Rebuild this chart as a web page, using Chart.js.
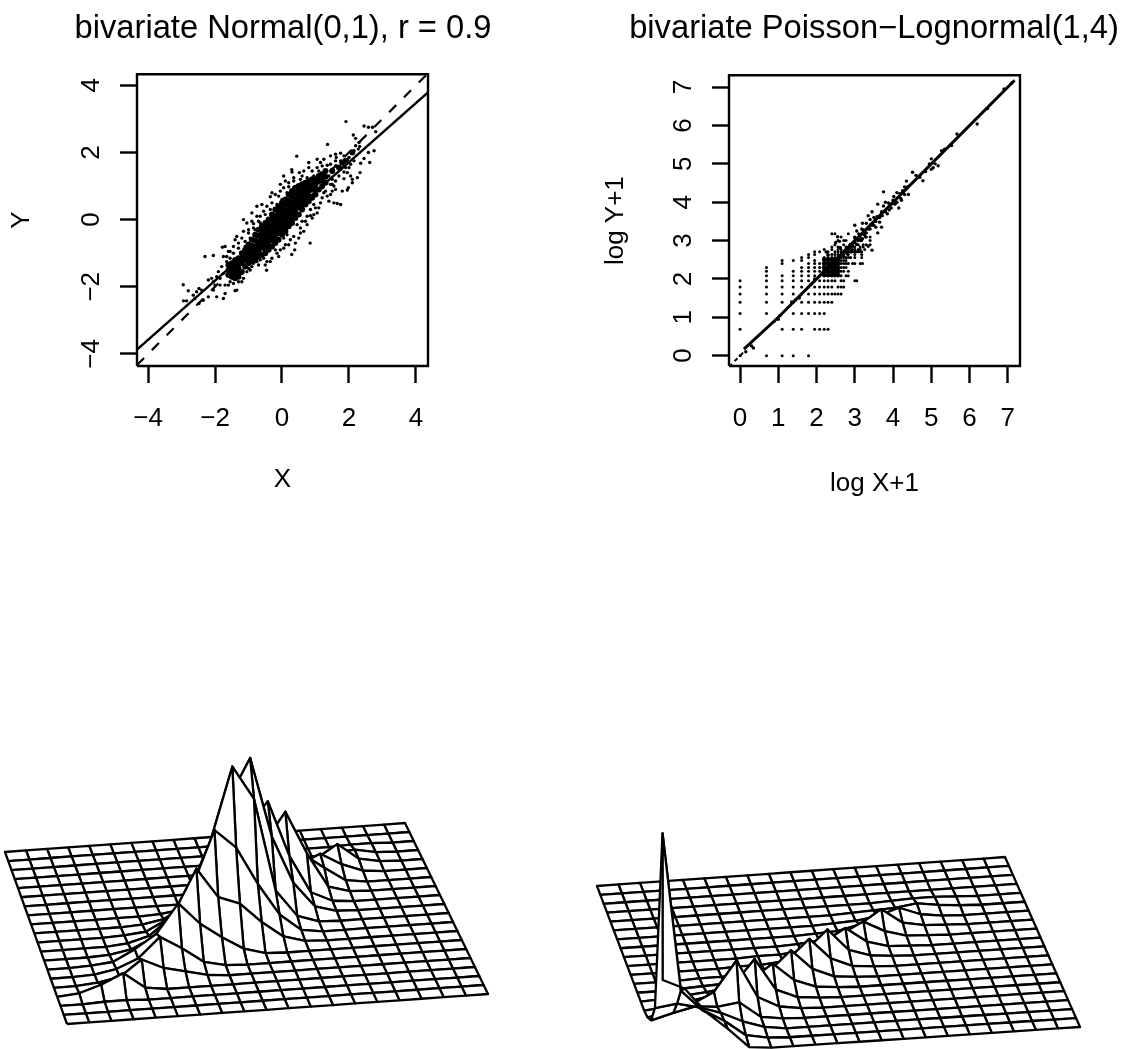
<!DOCTYPE html>
<html>
<head>
<meta charset="utf-8">
<style>
  html, body { margin: 0; padding: 0; background: #fff; overflow: hidden; }
  canvas { position: absolute; display: block; }
</style>
<script src="https://cdn.jsdelivr.net/npm/chart.js@4/dist/chart.umd.min.js"></script>
</head>
<body>
<canvas id="normalSurface" style="left:0;top:740px" width="566" height="309"></canvas>
<canvas id="poissonSurface" style="left:566px;top:740px" width="560" height="309"></canvas>
<canvas id="normalPlot" style="left:0;top:0" width="566" height="520"></canvas>
<canvas id="poissonPlot" style="left:566px;top:0" width="616" height="520"></canvas>
<script>
const normalTitle = 'bivariate Normal(0,1), r = 0.9';
const poissonTitle = 'bivariate Poisson\u2212Lognormal(1,4)';
const normalTicks = [-4, -2, 0, 2, 4];
const poissonTicks = [0, 1, 2, 3, 4, 5, 6, 7];

// loose dots of the normal cloud
const normalDots = [
  [1.91,2.92],[2.45,2.79],[2.58,2.75],[2.8,2.62],[2.7,2.75],[2.13,2.52],[2.2,2.42],[2.3,2.3],[2.2,2.2],[2.28,2.1],
  [2.15,2.05],[2.32,2.18],[2.75,2.05],[2.58,2.0],[2.45,1.82],[2.62,1.7],[2.35,1.68],[2.33,1.4],[2.25,1.25],[2.1,1.2],
  [2.1,1.1],[1.98,0.95],[1.95,0.88],[1.8,0.85],[1.55,0.5],[1.65,0.48],[1.75,0.45],[1.4,0.55],[1.35,0.7],[1.5,0.85],
  [1.36,2.24],[1.45,1.9],[1.6,1.95],[1.62,1.85],[1.75,1.98],[1.85,1.9],[1.95,1.78],[2.0,1.85],[2.05,1.65],[1.9,1.55],
  [1.75,1.5],[1.85,1.42],[1.95,1.4],[2.05,1.3],[1.85,1.22],[1.7,1.3],[1.6,1.15],[1.5,1.2],[1.45,1.05],[1.55,1.0],
  [1.6,0.9],[1.45,0.75],[1.25,0.8],[1.15,0.5],[1.1,0.35],[1.05,0.2],[0.95,0.15],[0.9,0.05],[0.84,-0.7],[0.29,-1.04],
  [0.38,-0.9],[-0.46,-1.51],[0.44,1.89],[0.29,1.49],[0.3,1.42],[0.52,1.4],[0.8,1.7],[0.8,1.55],[1.05,1.8],[1.15,1.7],
  [1.25,1.8],[1.2,1.6],[0.65,1.45],[0.05,1.3],[0.1,1.15],[0.2,1.1],[0.35,1.15],[-0.05,1.05],[-0.3,0.8],[-0.35,0.68],
  [-0.2,0.75],[-0.05,0.85],[-0.6,0.45],[-0.75,0.4],[-0.9,0.2],[-0.75,0.1],[-0.9,-0.05],[-1.05,-0.1],[-1.15,0],[-0.85,-0.25],
  [-0.65,0.1],[-1.35,-0.5],[-1.4,-0.6],[-1.3,-0.7],[-1.2,-0.55],[-1.1,-0.65],[-1.7,-0.8],[-1.6,-0.95],[-1.75,-1.1],[-1.45,-0.8],
  [-2.3,-1.1],[-2.05,-1.07],[-1.78,-0.82],[0.75,-0.15],[0.65,-0.35],[0.55,-0.4],[0.5,-0.55],[0.35,-0.5],[0.25,-0.6],[0.1,-0.75],
  [-0.05,-0.9],[-0.15,-1.0],[-0.3,-1.15],[-0.45,-1.25],[-0.55,-1.15],[-0.65,-1.2],[-0.75,-1.25],[-0.9,-1.4],[-1.05,-1.55],[-1.3,-1.85],
  [-1.35,-2.1],[-1.4,-2.12],[-1.2,-1.85],[-1.15,-1.75],[-1.7,-2.2],[-1.75,-2.35],[-1.95,-2.3],[-2.05,-2.1],[-2.2,-2.3],[-2.35,-2.4],
  [-2.6,-2.35],[-2.48,-2.5],[-2.95,-1.94],[-2.8,-2.12],[-2.94,-2.42],[-2.85,-2.42],[-2.48,-2.05],[-2.4,-2.1],[-2.55,-2.15],[-2.65,-2.25],
  [-2.2,-1.8],[-2.1,-1.75],[-2.05,-1.85],[-2.0,-1.95],[-1.95,-1.7],[-1.85,-1.75],[-1.75,-1.6],[-1.85,-1.95],[-1.7,-1.95],[-1.6,-1.95],
  [-1.55,-1.85],[-1.45,-1.9],[-1.0,-0.4],[-0.95,-0.55],[-1.1,-0.8],[-1.2,-1.0],[-1.65,-1.25],[-1.55,-1.15],[-1.8,-1.4],[-1.9,-1.55],
  [-1.0,-1.45],[-0.85,-1.3],[-1.2,-1.6],[-1.45,-1.75],[-0.2,-0.9],[0.05,-0.55],[0.15,-0.45],[0.45,-0.15],[0.6,-0.05],[0.75,0.1],
  [0.85,0.3],[0.95,0.45],[1.2,0.95],[1.3,1.1],[1.4,1.3],[1.5,1.5],[1.6,1.6],[1.1,1.45],[0.95,1.3],[0.75,1.25],
  [0.55,1.2],[0.35,0.95],[0.15,0.8],[0,0.6],[-0.15,0.45],[-0.35,0.3],[-0.5,0.15],[-0.65,-0.1],[-0.8,-0.3],[-1.0,-0.7],
  [-0.45,0.4],[-0.55,0.25],[-0.3,0.5],[-0.1,0.7],[0.05,0.95],[0.2,0.98],[-0.7,-0.05],[-0.85,-0.12],[-1.0,-0.3],[-1.15,-0.35],
  [-1.3,-0.85],[-1.45,-1.0],[-1.55,-0.95],[-1.65,-1.1],[-0.95,-1.5],[-0.7,-1.35],[-0.5,-1.35],[-0.35,-1.25],[-0.1,-1.1],[0.05,-0.85],
  [0.2,-0.75],[0.4,-0.7],[0.55,-0.25],[0.7,-0.05],[0.85,0.12],[1.0,0.35],[1.2,0.65],[1.3,0.85],[1.5,1.05],[0.6,1.3],
  [0.35,1.25],[0.9,1.45],[1.05,1.55],[1.35,1.62],[1.45,1.65],[1.6,1.75],[1.75,1.75],[1.85,1.6],[2.0,1.55],[2.15,1.75]
];
// the solid middle of the cloud, where dots overlap completely: one y list per x
const normalCoreX = [-1.6, -1.5, -1.4, -1.3, -1.2, -1.1, -1.0, -0.9, -0.8, -0.7, -0.6, -0.5, -0.4, -0.3, -0.2, -0.1, 0, 0.1, 0.2, 0.3, 0.4, 0.5, 0.6, 0.7, 0.8, 0.9, 1.0, 1.1, 1.2, 1.3, 1.5, 1.7, 1.8, 1.9, 2.1];
const normalCoreY = [
  [-1.35, -1.5, -1.65],
  [-1.3, -1.45, -1.6, -1.7],
  [-1.2, -1.35, -1.5, -1.62, -1.75],
  [-1.15, -1.3, -1.45, -1.6, -1.7],
  [-1.0, -1.15, -1.3, -1.55],
  [-0.9, -1.05, -1.2, -1.4],
  [-0.75, -0.9, -1.05, -1.15, -1.3],
  [-0.6, -0.78, -0.95, -1.1, -1.25],
  [-0.45, -0.62, -0.8, -0.95, -1.1, -1.2],
  [-0.3, -0.48, -0.65, -0.8, -0.95, -1.1],
  [-0.2, -0.36, -0.52, -0.68, -0.84, -1.05],
  [-0.1, -0.25, -0.42, -0.58, -0.74, -0.88, -1.0],
  [0, -0.16, -0.32, -0.48, -0.62, -0.78, -0.9],
  [0.15, 0, -0.16, -0.32, -0.46, -0.62, -0.8],
  [0.3, 0.12, -0.04, -0.2, -0.36, -0.52, -0.7],
  [0.4, 0.24, 0.08, -0.08, -0.24, -0.4, -0.6],
  [0.5, 0.34, 0.18, 0.02, -0.14, -0.3, -0.45],
  [0.6, 0.44, 0.28, 0.12, -0.04, -0.2, -0.35],
  [0.75, 0.58, 0.42, 0.26, 0.1, -0.05, -0.2],
  [0.85, 0.68, 0.52, 0.36, 0.2, 0.04, -0.1],
  [0.95, 0.8, 0.64, 0.48, 0.32, 0.18, 0.05],
  [1.0, 0.84, 0.68, 0.52, 0.36, 0.15],
  [1.05, 0.88, 0.72, 0.58, 0.44, 0.3],
  [1.1, 0.94, 0.78, 0.62, 0.45],
  [1.15, 1.0, 0.85, 0.7, 0.55],
  [1.2, 1.05, 0.9, 0.65],
  [1.2, 1.05, 0.9, 0.75],
  [1.3, 1.15, 0.9],
  [1.35, 1.18, 1.0],
  [1.45, 1.28, 1.1],
  [1.45],
  [1.55],
  [1.7],
  [1.75],
  [2.0]
];

// counts sit on a log grid: one list of x values per row of poissonRowY
const poissonRowY = [0, 0.69, 1.1, 1.39, 1.61, 1.79, 1.95, 2.08, 2.2, 2.3, 2.4, 2.48, 2.56, 2.64, 2.71, 2.77, 2.83, 2.89, 3.0, 3.09, 3.18];
const poissonRowX = [
  [0, 0.69, 1.1, 1.39, 1.79],
  [0, 1.1, 1.39, 1.61, 1.95, 2.08, 2.2, 2.3],
  [0, 0.69, 1.39, 1.61, 1.79, 1.95, 2.08, 2.2],
  [0, 0.69, 1.1, 1.39, 1.61, 1.79, 1.95, 2.08, 2.2, 2.3, 2.4],
  [0, 0.69, 1.1, 1.39, 1.61, 1.79, 1.95, 2.08, 2.2, 2.3, 2.4, 2.48, 2.56, 2.64],
  [0, 0.69, 1.1, 1.39, 1.61, 1.79, 1.95, 2.08, 2.2, 2.3, 2.4, 2.56, 2.64, 2.71],
  [0, 0.69, 1.1, 1.39, 1.61, 1.79, 1.95, 2.08, 2.2, 2.3, 2.4, 2.48, 2.64, 2.71, 3.0, 3.05],
  [0.69, 1.1, 1.39, 1.61, 1.79, 1.95, 2.08, 2.2, 2.3, 2.4, 2.48, 2.56, 2.64, 2.77, 2.83],
  [0.69, 1.39, 1.61, 1.79, 1.95, 2.08, 2.2, 2.3, 2.4, 2.48, 2.56, 2.64, 2.71, 2.83],
  [0.69, 1.61, 1.79, 1.95, 2.08, 2.2, 2.3, 2.4, 2.48, 2.56, 2.64, 2.71, 2.77],
  [1.1, 1.79, 1.95, 2.08, 2.2, 2.3, 2.4, 2.48, 2.56, 2.64, 2.71, 2.77, 2.83, 2.94, 3.0, 3.14, 3.2],
  [1.1, 1.39, 1.61, 1.95, 2.2, 2.3, 2.4, 2.48, 2.56, 2.64, 2.71, 2.77],
  [1.61, 1.79, 2.2, 2.3, 2.4, 2.48, 2.56, 2.64, 2.71, 2.77, 2.83, 2.89, 3.0, 3.18],
  [1.79, 1.95, 2.3, 2.4, 2.48, 2.56, 2.71, 2.83, 3.0, 3.18],
  [1.95, 2.08, 2.3, 2.48, 2.56, 2.64, 2.77, 2.83, 2.89, 2.94, 3.0, 3.04, 3.09, 3.14, 3.18],
  [2.2, 2.4, 2.56, 2.64, 2.83, 2.89, 2.94, 3.0, 3.09, 3.14, 3.26],
  [2.4, 2.56, 2.77, 2.89, 3.0, 3.14, 3.22],
  [2.48, 2.71, 2.94, 3.09, 3.22, 3.3, 3.4],
  [2.56, 2.71, 2.77, 3.0, 3.09, 3.18, 3.4],
  [2.64, 3.0, 3.14, 3.3, 3.4],
  [2.4, 2.48, 2.83, 3.1, 3.2]
];
// dots above the grid part, close to the diagonal
const poissonDots = [
  [0.15,0.1],[0.3,0.25],[0.35,0.2],[0.9,0.9],[1.0,0.95],[1.05,1.05],[1.35,1.4],[1.45,1.45],[1.55,1.5],[1.85,1.85],[1.95,2.0],
  [2.75,2.7],[2.85,2.8],[2.8,2.65],[2.9,2.7],[2.95,2.85],[3.0,2.95],[3.05,2.9],[3.1,3.05],[3.15,3.0],[3.25,3.15],
  [3.18,3.3],[3.3,3.45],[3.4,3.55],[3.5,3.6],[3.55,3.35],[3.6,3.2],[3.35,2.85],[3.45,2.75],[3.2,3.05],[3.3,3.2],
  [3.4,3.3],[3.45,3.4],[3.55,3.5],[3.65,3.6],[3.7,3.75],[3.75,3.9],[3.8,4.0],[3.85,3.7],[3.9,3.8],[3.95,3.95],
  [4.0,4.05],[4.05,3.95],[4.1,4.25],[4.2,4.1],[4.25,4.3],[4.3,4.4],[4.15,3.85],[4.4,4.2],[3.75,4.27],[3.45,3.75],
  [3.35,3.65],[3.2,3.45],[3.05,3.25],[3.0,3.4],[3.7,3.35],[3.6,3.95],[4.35,4.55],[4.51,4.78],[4.78,4.56],[4.6,4.7],
  [4.7,4.65],[4.85,4.8],[4.95,5.0],[5.0,5.13],[5.05,4.9],[5.18,4.95],[5.1,5.0],[5.0,4.86],[5.27,5.34],[5.35,5.38],
  [5.53,5.48],[5.67,5.78],[6.2,6.04],[6.47,6.44],[6.9,6.95],[7.1,7.1],
  [2.7,2.6],[2.78,2.78],[2.88,2.9],[2.92,2.75],[3.0,3.08],[3.08,3.0],[3.15,3.15],[3.22,3.28],[3.28,3.1],[3.35,3.3],
  [3.42,3.42],[3.5,3.4],[3.58,3.62],[3.65,3.48],[3.72,3.65],[3.8,3.75],[3.88,3.98],[3.95,3.85],[4.02,4.15],[4.1,4.0],
  [4.18,4.22],[4.22,4.05],[4.3,4.2],[4.38,4.4],[2.25,2.7],[2.3,2.62],[2.5,2.95],[2.6,2.98],[2.62,2.82],[2.55,3.1]
];
// the packed corner of the lower grid
const poissonCoreX = [2.2, 2.3, 2.4, 2.48, 2.56];
const poissonCoreY = [2.1, 2.2, 2.3, 2.4, 2.5];

// smoothed density surfaces, height at each grid node: row 0 is the front edge, missing cells are flat
const normalHeights = [
  [],
  [],
  [0, 0, 1, 1],
  [0, 2, 9, 19, 3],
  [0, 0, 2, 6, 22, 12, 7, 2],
  [0, 0, 1, 5, 14, 34, 21, 6, 1],
  [0, 0, 1, 3, 14, 28, 57, 35, 20, 7, 1],
  [0, 0, 0, 1, 5, 15, 40, 81, 51, 43, 23, 7, 1],
  [0, 0, 0, 0, 2, 8, 25, 55, 109, 90, 52, 20, 3],
  [0, 0, 0, 0, 1, 3, 14, 40, 90, 162, 128, 35, 8, 1],
  [0, 0, 0, 0, 0, 1, 5, 18, 50, 120, 160, 80, 32, 7, 1],
  [0, 0, 0, 0, 0, 0, 1, 4, 15, 40, 80, 106, 50, 12, 2],
  [0, 0, 0, 0, 0, 0, 0, 0, 2, 8, 25, 55, 85, 42, 7, 1],
  [0, 0, 0, 0, 0, 0, 0, 0, 0, 1, 3, 10, 30, 32, 17, 3],
  [0, 0, 0, 0, 0, 0, 0, 0, 0, 0, 0, 1, 5, 12, 22, 10, 2],
  [0, 0, 0, 0, 0, 0, 0, 0, 0, 0, 0, 0, 0, 2, 8, 21, 5, 1],
  [0, 0, 0, 0, 0, 0, 0, 0, 0, 0, 0, 0, 0, 0, 1, 3, 5, 1],
  [0, 0, 0, 0, 0, 0, 0, 0, 0, 0, 0, 0, 0, 0, 0, 0, 1, 1]
];
const poissonHeights = [
  [75, 65, 40, 22, 2],
  [213, 54, 33, 21, 5, 1],
  [29, 32, 27, 20, 10, 3],
  [8, 14, 19, 17, 20, 4, 1],
  [2, 5, 12, 23, 53, 15, 4, 1],
  [0, 2, 6, 10, 18, 44, 12, 3, 1],
  [0, 1, 3, 5, 8, 14, 29, 11, 3, 1],
  [0, 0, 1, 2, 3, 6, 12, 32, 12, 3, 1],
  [0, 0, 0, 1, 1, 2, 4, 13, 33, 12, 3, 1],
  [0, 0, 0, 0, 0, 1, 1, 3, 12, 32, 10, 3, 1],
  [0, 0, 0, 0, 0, 0, 1, 1, 3, 10, 23, 8, 2, 1],
  [0, 0, 0, 0, 0, 0, 0, 0, 1, 3, 8, 19, 8, 2, 1],
  [0, 0, 0, 0, 0, 0, 0, 0, 0, 1, 2, 7, 21, 6, 2, 1],
  [0, 0, 0, 0, 0, 0, 0, 0, 0, 0, 1, 2, 5, 12, 4, 1],
  [0, 0, 0, 0, 0, 0, 0, 0, 0, 0, 0, 1, 2, 3, 6, 3, 1],
  [0, 0, 0, 0, 0, 0, 0, 0, 0, 0, 0, 0, 0, 1, 2, 2, 1]
];
const gridCells = 19;

const axisFont = { family: '"Liberation Sans", Arial, sans-serif', size: 26 };
const titleFont = { family: '"Liberation Sans", Arial, sans-serif', size: 32.7, weight: 'normal' };

function minusLabel(value) {
  return value < 0 ? '\u2212' + Math.abs(value) : String(value);
}

function axisOptions(limits, tickValues, label, isX, frame) {
  return {
    type: 'linear',
    min: limits[0],
    max: limits[1],
    afterBuildTicks(scale) { scale.ticks = tickValues.map(value => ({ value })); },
    afterFit(scale) {
      if (isX) scale.height = frame.xHeight;
      else scale.width = frame.yWidth;
    },
    border: { display: false },
    grid: { drawOnChartArea: false, drawTicks: true, tickLength: 17, tickColor: '#000', tickWidth: 2.4 },
    ticks: {
      autoSkip: false,
      color: '#000',
      font: axisFont,
      padding: isX ? frame.xPad : frame.yPad,
      minRotation: isX ? 0 : 90,
      maxRotation: isX ? 0 : 90,
      crossAlign: isX ? 'near' : 'center',
      callback: minusLabel
    },
    title: { display: true, text: label, color: '#000', font: axisFont, padding: isX ? 0 : { top: frame.yTitle, bottom: 0 } }
  };
}

function lineSet(data, width, dash) {
  return { type: 'line', data, borderColor: '#000', borderWidth: width, borderDash: dash || [], pointRadius: 0, fill: false, tension: 0 };
}

function dotSet(data, radius) {
  return { data, backgroundColor: '#000', borderWidth: 0, pointRadius: radius, pointHoverRadius: radius };
}

function toPoints(pairs) {
  return pairs.map(p => ({ x: p[0], y: p[1] }));
}

function makePlot(id, title, xLimits, yLimits, xTicks, yTicks, xLabel, yLabel, sets, frame) {
  const box = [[xLimits[0], yLimits[0]], [xLimits[1], yLimits[0]], [xLimits[1], yLimits[1]], [xLimits[0], yLimits[1]], [xLimits[0], yLimits[0]]];
  const boxSet = lineSet(toPoints(box), 2.4);
  boxSet.clip = false;
  new Chart(document.getElementById(id), {
    type: 'scatter',
    data: { datasets: sets.concat([boxSet]) },
    options: {
      responsive: false,
      animation: false,
      layout: { padding: { bottom: frame.bottom } },
      plugins: {
        legend: { display: false },
        tooltip: { enabled: false },
        title: { display: true, text: title, color: '#000', font: titleFont, padding: { top: 9, bottom: frame.titleGap } }
      },
      scales: {
        x: axisOptions(xLimits, xTicks, xLabel, true, frame),
        y: axisOptions(yLimits, yTicks, yLabel, false, frame),
        // empty axis on the right: keeps the title centred on the whole canvas
        side: {
          type: 'linear',
          position: 'right',
          afterFit(scale) { scale.width = frame.right; },
          ticks: { display: false },
          grid: { display: false },
          border: { display: false }
        }
      }
    }
  });
}

// the base grid is a slanted quadrilateral: front-left, front-right, back-right, back-left
function baseMapper(quad) {
  const [p0, p1, p2, p3] = quad;
  return (s, t) => ({
    x: (1 - s) * (1 - t) * p0[0] + s * (1 - t) * p1[0] + s * t * p2[0] + (1 - s) * t * p3[0],
    y: (1 - s) * (1 - t) * p0[1] + s * (1 - t) * p1[1] + s * t * p2[1] + (1 - s) * t * p3[1]
  });
}

function makeSurface(id, heights, quad, xRange, yRange, lean) {
  const mapBase = baseMapper(quad);
  const node = (u, v) => {
    const base = mapBase(u / gridCells, v / gridCells);
    const z = (heights[v] && heights[v][u]) || 0;
    return { x: base.x + lean * z, y: base.y - z };
  };
  // dataset 0 is painted last, so the nearest facet goes first and hides what is behind it
  const datasets = [];
  for (let v = 0; v < gridCells; v++) {
    for (let u = 0; u < gridCells; u++) {
      datasets.push({
        type: 'line',
        data: [node(u, v), node(u + 1, v), node(u + 1, v + 1), node(u, v + 1), node(u, v)],
        borderColor: '#000',
        borderWidth: 2.3,
        borderJoinStyle: 'round',
        backgroundColor: '#fff',
        fill: 'shape',
        pointRadius: 0,
        tension: 0
      });
    }
  }
  new Chart(document.getElementById(id), {
    type: 'line',
    data: { datasets },
    options: {
      responsive: false,
      animation: false,
      parsing: false,
      normalized: false,
      layout: { padding: 0 },
      plugins: { legend: { display: false }, tooltip: { enabled: false } },
      scales: {
        x: { type: 'linear', display: false, min: xRange[0], max: xRange[1] },
        y: { type: 'linear', display: false, min: yRange[0], max: yRange[1], reverse: true }
      }
    }
  });
}

const normalCore = [];
normalCoreX.forEach((x, i) => normalCoreY[i].forEach(y => normalCore.push({ x, y })));

makePlot('normalPlot', normalTitle, [-4.33, 4.36], [-4.36, 4.33], normalTicks, normalTicks, 'X', 'Y', [
  lineSet(toPoints([[-4.33, -3.87], [4.36, 3.79]]), 2.4),
  lineSet(toPoints([[-4.33, -4.33], [4.33, 4.33]]), 2.2, [10, 11]),
  dotSet(toPoints(normalDots), 1.7),
  dotSet(normalCore, 3)
], { yWidth: 137, yTitle: 6.4, yPad: 13, xHeight: 129.6, xPad: 20, bottom: 24.4, right: 138, titleGap: 26 });

const poissonGrid = [];
poissonRowY.forEach((y, i) => poissonRowX[i].forEach(x => poissonGrid.push({ x, y })));
const poissonCore = [];
poissonCoreY.forEach(y => poissonCoreX.forEach(x => poissonCore.push({ x, y })));

makePlot('poissonPlot', poissonTitle, [-0.29, 7.32], [-0.27, 7.31], poissonTicks, poissonTicks, 'log X+1', 'log Y+1', [
  lineSet(toPoints([[0.1, 0.17], [1, 1], [2, 2], [3, 3], [7.18, 7.18]]), 3),
  lineSet(toPoints([[-0.29, -0.29], [0.1, 0.1]]), 2, [4, 4]),
  dotSet(poissonGrid, 1.5),
  dotSet(toPoints(poissonDots), 1.7),
  dotSet(poissonCore, 2.4)
], { yWidth: 163, yTitle: 34, yPad: 20.8, xHeight: 133, xPad: 20, bottom: 21, right: 162, titleGap: 27 });

makeSurface('normalSurface', normalHeights, [[67, 1024], [488, 994], [405, 823], [5, 852]], [0, 566], [740, 1049], 0);
makeSurface('poissonSurface', poissonHeights, [[661, 1055], [1080, 1027], [1005, 857], [597, 886]], [566, 1126], [740, 1049], 0.023);
</script>
</body>
</html>
